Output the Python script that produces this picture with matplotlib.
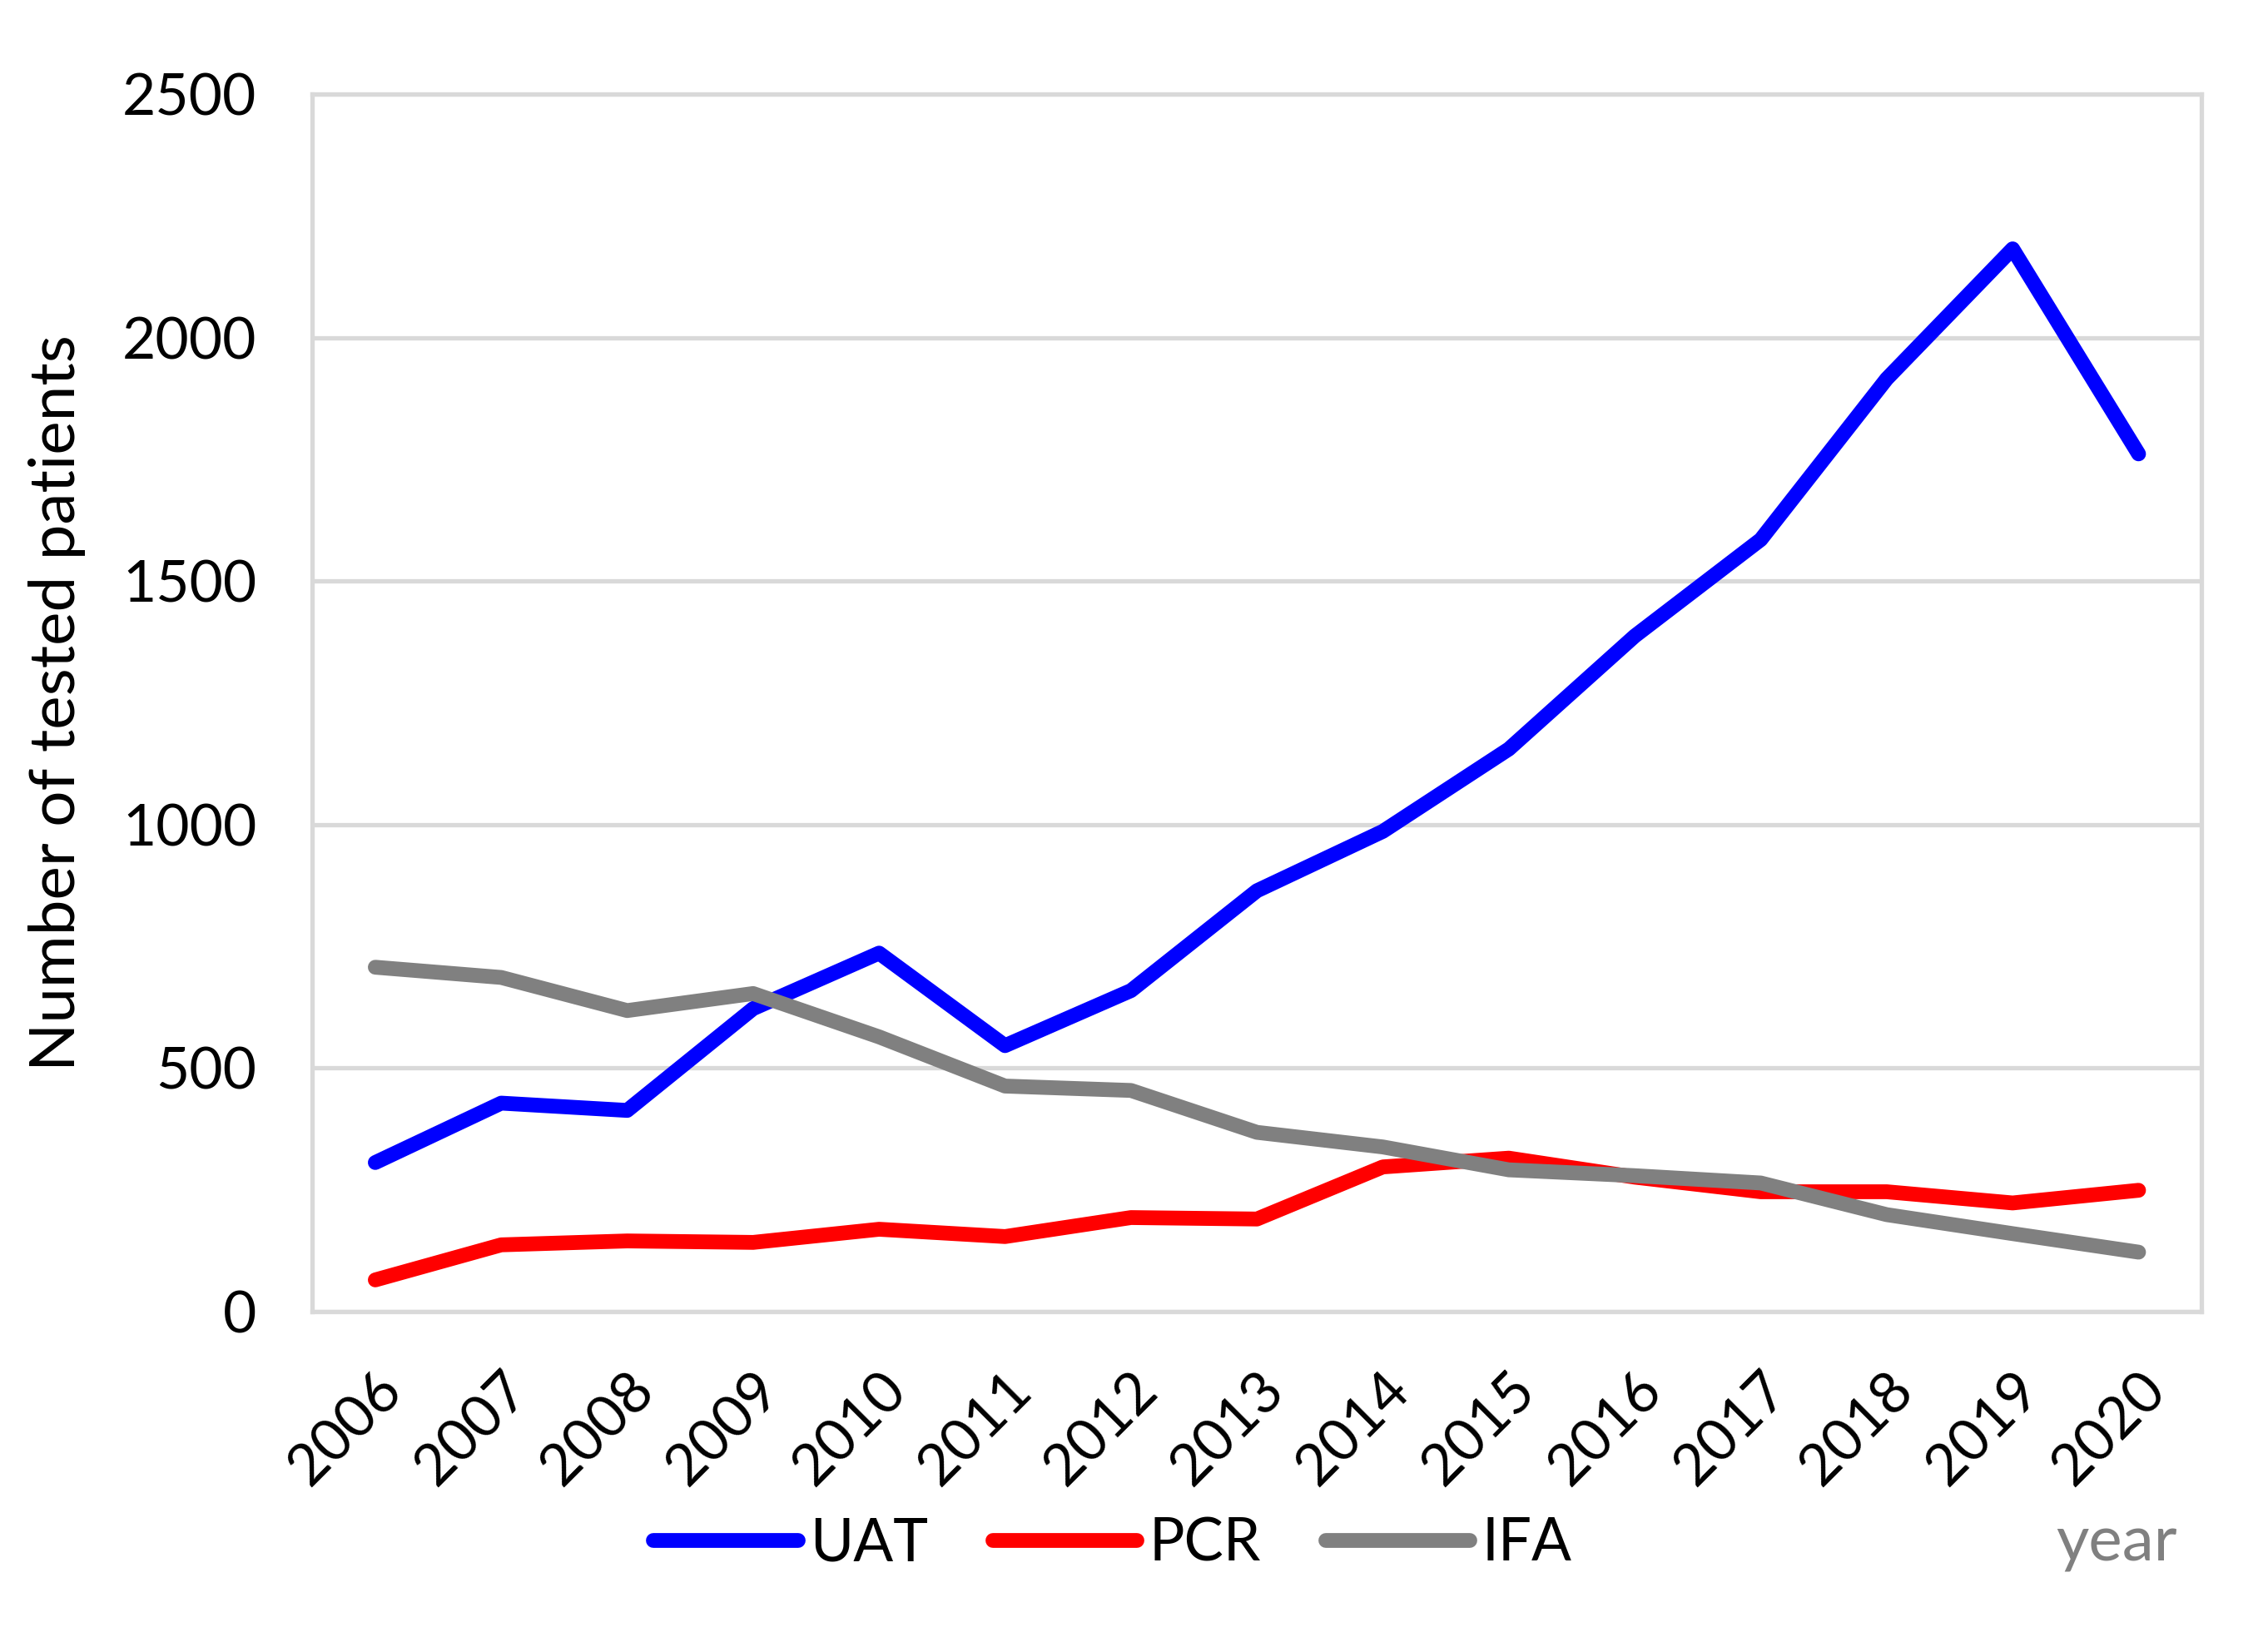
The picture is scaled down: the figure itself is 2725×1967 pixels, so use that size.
import numpy as np
import matplotlib
matplotlib.use("Agg")
from matplotlib import pyplot as plt

plt.rcParams['font.family'] = ['Lato', 'DejaVu Sans']

# data
years = ['2006', '2007', '2008', '2009', '2010', '2011', '2012', '2013',
         '2014', '2015', '2016', '2017', '2018', '2019', '2020']
uat = [306, 428, 413, 622, 736, 546, 659, 864, 986, 1155, 1387, 1585, 1915, 2182, 1761]
pcr = [65, 137, 145, 142, 169, 154, 193, 190, 297, 315, 276, 246, 246, 223, 249]
ifa = [707, 686, 618, 653, 564, 463, 454, 368, 338, 291, 279, 264, 199, 160, 122]
y_ticks = [0, 500, 1000, 1500, 2000, 2500]

grid_col = '#d9d9d9'
fs = 25
fs_big = 27.5
fs_leg = 25.5

fig = plt.figure(figsize=(13.625, 9.835), dpi=200)
ax = fig.add_axes([0.1377, 0.1988, 0.833, 0.7438])

x = np.arange(len(years))
lw = 6.4
ax.plot(x, uat, color='#0000ff', lw=lw, solid_capstyle='round', solid_joinstyle='round', label='UAT')
ax.plot(x, pcr, color='#ff0000', lw=lw, solid_capstyle='round', solid_joinstyle='round', label='PCR')
ax.plot(x, ifa, color='#808080', lw=lw, solid_capstyle='round', solid_joinstyle='round', label='IFA')

ax.set_xlim(-0.5, len(years) - 0.5)
ax.set_ylim(0, 2500)
ax.set_yticks(y_ticks)
ax.set_yticklabels([str(v) for v in y_ticks], fontsize=fs)
ax.set_xticks(x)
ax.set_xticklabels(years, fontsize=fs, rotation=45, ha='right', rotation_mode='anchor')
ax.tick_params(axis='y', length=0, pad=24)
ax.tick_params(axis='x', length=0, pad=22)

ax.grid(axis='y', color=grid_col, lw=1.9)
ax.set_axisbelow(True)
for s in ax.spines.values():
    s.set_color(grid_col)
    s.set_linewidth(1.9)

ax.set_ylabel('Number of tested patients', fontsize=fs_big, labelpad=16)

fig.legend(loc='center', bbox_to_anchor=(0.4906, 0.057), ncol=3, frameon=False,
           fontsize=fs_leg, handlelength=2.45, handletextpad=0.2, columnspacing=1.1)
fig.text(0.96, 0.057, 'year', fontsize=fs_big, color='#808080', ha='right', va='center')

fig.savefig('out.png', dpi=200)
